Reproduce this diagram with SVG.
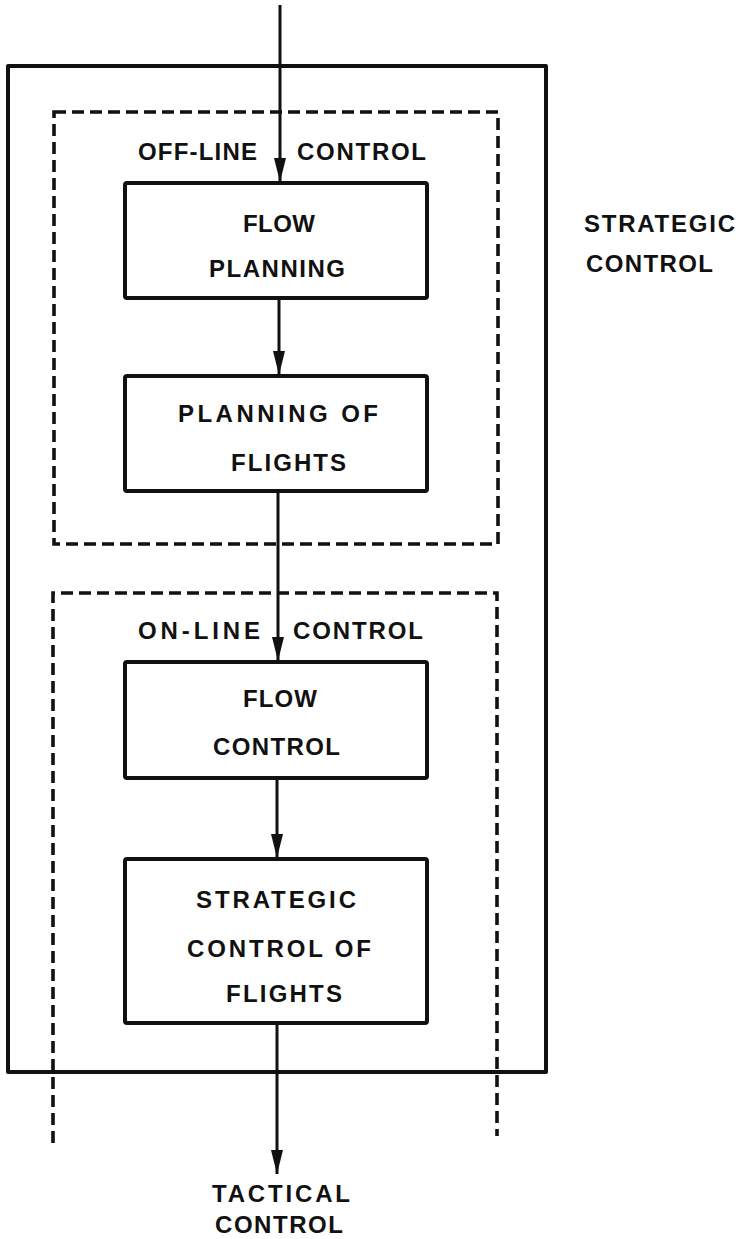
<svg xmlns="http://www.w3.org/2000/svg" width="743" height="1239" viewBox="0 0 743 1239">
<style>
.box{fill:none;stroke:#111;stroke-width:4;stroke-linejoin:round}
.dash{fill:none;stroke:#111;stroke-width:3.6;stroke-dasharray:12 6}
.conn{fill:none;stroke:#111;stroke-width:3}
text{font-family:"Liberation Sans",Arial,sans-serif;font-size:24px;font-weight:bold;fill:#111}
</style>
<defs>
<marker id="ah" viewBox="0 0 24 12" refX="24" refY="6" markerWidth="24" markerHeight="12" markerUnits="userSpaceOnUse" orient="auto">
<path d="M0,0 L24,6 L0,12 z" fill="#111"/>
</marker>
</defs>
<rect width="743" height="1239" fill="#fff"/>
<g id="strategic-control">
<rect class="box" x="8" y="66" width="538" height="1006"/>
<text x="584" y="232" textLength="151" lengthAdjust="spacing">STRATEGIC</text>
<text x="586" y="272" textLength="127" lengthAdjust="spacing">CONTROL</text>
</g>
<g id="offline-control">
<rect class="dash" x="54" y="112" width="444" height="432"/>
<text x="138" y="160" textLength="119" lengthAdjust="spacing">OFF-LINE</text>
<text x="297" y="160" textLength="129" lengthAdjust="spacing">CONTROL</text>
</g>
<g id="online-control">
<path class="dash" d="M53,1143 V593 H497 V1136"/>
<text x="138" y="639" textLength="122" lengthAdjust="spacing">ON-LINE</text>
<text x="293" y="639" textLength="130" lengthAdjust="spacing">CONTROL</text>
</g>
<g id="flow-planning">
<rect class="box" x="125" y="183" width="302" height="115" rx="2"/>
<text x="243" y="232" textLength="72" lengthAdjust="spacing">FLOW</text>
<text x="209" y="277" textLength="136" lengthAdjust="spacing">PLANNING</text>
</g>
<g id="planning-of-flights">
<rect class="box" x="125" y="376" width="302" height="115" rx="2"/>
<text x="178" y="422" textLength="200" lengthAdjust="spacing">PLANNING OF</text>
<text x="231" y="471" textLength="115" lengthAdjust="spacing">FLIGHTS</text>
</g>
<g id="flow-control">
<rect class="box" x="125" y="662" width="302" height="116" rx="2"/>
<text x="243" y="707" textLength="74" lengthAdjust="spacing">FLOW</text>
<text x="213" y="755" textLength="127" lengthAdjust="spacing">CONTROL</text>
</g>
<g id="strategic-control-of-flights">
<rect class="box" x="125" y="859" width="302" height="164" rx="2"/>
<text x="196" y="908" textLength="160" lengthAdjust="spacing">STRATEGIC</text>
<text x="187" y="957" textLength="184" lengthAdjust="spacing">CONTROL OF</text>
<text x="226" y="1002" textLength="116" lengthAdjust="spacing">FLIGHTS</text>
</g>
<g id="tactical-control">
<text x="212" y="1202" textLength="138" lengthAdjust="spacing">TACTICAL</text>
<text x="215" y="1233" textLength="128" lengthAdjust="spacing">CONTROL</text>
</g>
<g id="connectors">
<line class="conn" x1="280" y1="5" x2="280" y2="182" marker-end="url(#ah)"/>
<line class="conn" x1="279" y1="298" x2="279" y2="375" marker-end="url(#ah)"/>
<line class="conn" x1="278" y1="491" x2="278" y2="661" marker-end="url(#ah)"/>
<line class="conn" x1="277" y1="778" x2="277" y2="858" marker-end="url(#ah)"/>
<line class="conn" x1="277" y1="1023" x2="277" y2="1174" marker-end="url(#ah)"/>
</g>
</svg>
